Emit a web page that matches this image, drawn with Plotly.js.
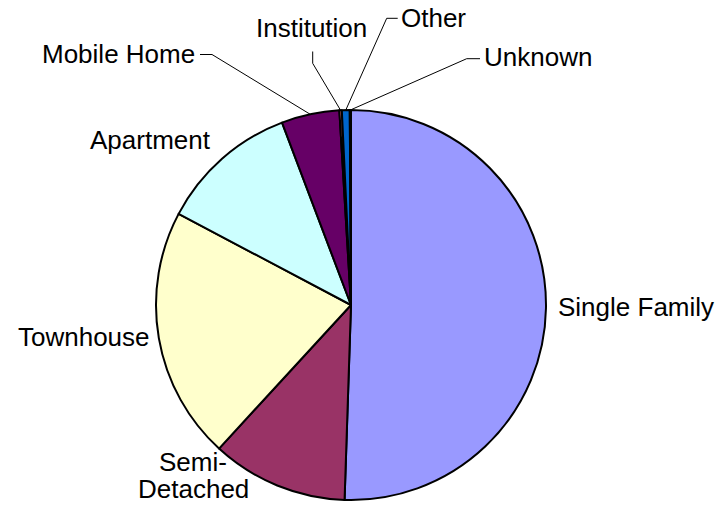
<!DOCTYPE html>
<html>
<head>
<meta charset="utf-8">
<script src="https://cdn.plot.ly/plotly-3.0.1.min.js"></script>
<style>html,body{margin:0;padding:0;background:#fff;}#chart{width:728px;height:512px;}</style>
</head>
<body>
<div id="chart"></div>
<script>
// ---- data ----
const categories = ['Single Family','Semi-Detached','Townhouse','Apartment','Mobile Home','Institution','Other','Unknown'];
const shares = [50.5, 11.3, 20.9, 11.5, 4.8, 0.2, 0.65, 0.1];
const sliceColors = ['#9999FF','#993366','#FFFFCC','#CCFFFF','#660066','#FF8080','#0066CC','#CCCCFF'];

// ---- layout geometry (pixels) ----
const W = 728, H = 512;
const CX = 351, CY = 305, R = 195;
const labelPlacement = {
  'Single Family': {x: 556, y: 307, anchor: 'left'},
  'Semi-Detached': {x: 193, y: 462, anchor: 'center', split: true, lineGap: 26.5},
  'Townhouse':     {x: 152, y: 337, anchor: 'right'},
  'Apartment':     {x: 213, y: 140, anchor: 'right'},
  'Mobile Home':   {x: 197, y: 54, anchor: 'right', leader: [[200, 54.5], [212, 54.5]]},
  'Institution':   {x: 311, y: 28, anchor: 'center', leader: [[312.7, 51.5], [312.7, 63.3]]},
  'Other':         {x: 399, y: 17.5, anchor: 'left', leader: [[397.7, 18.3], [386.7, 18.3]]},
  'Unknown':       {x: 481.5, y: 56.5, anchor: 'left', leader: [[480, 58.7], [466.7, 58.7]]}
};

const px = x => x / W;
const py = y => 1 - y / H;

const total = shares.reduce((a, b) => a + b, 0);
const annotations = [];
const shapes = [];
const font = {family: 'Liberation Sans, Arial, sans-serif', size: 26, color: '#000'};

let cum = 0;
categories.forEach((cat, i) => {
  const mid = (cum + shares[i] / 2) / total * 2 * Math.PI;
  cum += shares[i];
  const p = labelPlacement[cat];
  if (p.split) {
    const parts = cat.split('-');
    const lines = [parts[0] + '-', parts.slice(1).join('-')];
    lines.forEach((t, k) => annotations.push({
      text: t, x: px(p.x), y: py(p.y + k * p.lineGap), xref: 'paper', yref: 'paper',
      xanchor: p.anchor, yanchor: 'middle', showarrow: false, font: font
    }));
  } else {
    annotations.push({
      text: cat, x: px(p.x), y: py(p.y), xref: 'paper', yref: 'paper',
      xanchor: p.anchor, yanchor: 'middle', showarrow: false, font: font
    });
  }
  if (p.leader) {
    const edge = [CX + R * Math.sin(mid), CY - R * Math.cos(mid)];
    const pts = p.leader.concat([edge]);
    for (let k = 0; k < pts.length - 1; k++) {
      shapes.push({
        type: 'line', xref: 'paper', yref: 'paper',
        x0: px(pts[k][0]), y0: py(pts[k][1]), x1: px(pts[k + 1][0]), y1: py(pts[k + 1][1]),
        line: {color: '#000', width: 1}
      });
    }
  }
});

const trace = {
  type: 'pie',
  labels: categories,
  values: shares,
  sort: false,
  direction: 'clockwise',
  rotation: 0,
  textinfo: 'none',
  hoverinfo: 'none',
  marker: {colors: sliceColors, line: {color: '#000', width: 2}},
  domain: {x: [px(CX - R), px(CX + R)], y: [py(CY + R), py(CY - R)]},
  showlegend: false
};

const layout = {
  width: W, height: H,
  margin: {l: 0, r: 0, t: 0, b: 0},
  paper_bgcolor: '#fff',
  plot_bgcolor: '#fff',
  showlegend: false,
  annotations: annotations,
  shapes: shapes
};

Plotly.newPlot('chart', [trace], layout, {displayModeBar: false, staticPlot: true});
</script>
</body>
</html>
